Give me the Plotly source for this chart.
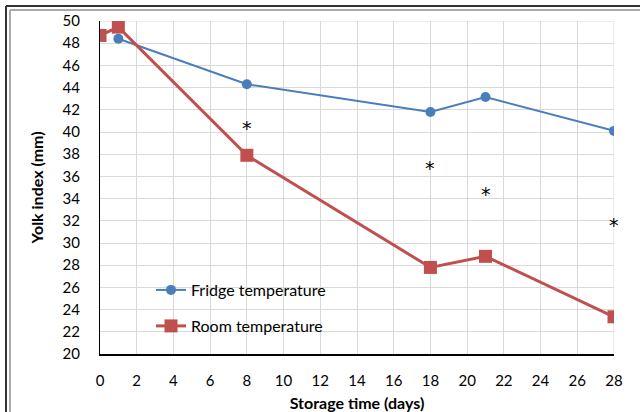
import plotly.graph_objects as go

fridge_days = [1, 8, 18, 21, 28]
fridge_yolk = [48.4, 44.3, 41.8, 43.15, 40.1]
room_days = [0, 1, 8, 18, 21, 28]
room_yolk = [48.7, 49.45, 37.9, 27.8, 28.8, 23.35]
star_days = [8, 18, 21, 28]
star_yolk = [40.6, 37.0, 34.65, 31.9]
x_ticks = list(range(0, 29, 2))
y_ticks = list(range(20, 51, 2))

FONT = "Lato"
BLUE = "#4A7EBB"
RED = "#C0504D"

fig = go.Figure()
fig.add_trace(go.Scatter(
    x=fridge_days, y=fridge_yolk, mode="lines+markers", name="Fridge temperature",
    line=dict(color=BLUE, width=2), marker=dict(symbol="circle", size=10, color=BLUE),
    legend="legend", showlegend=True))
fig.add_trace(go.Scatter(
    x=room_days, y=room_yolk, mode="lines+markers", name="Room temperature",
    line=dict(color=RED, width=3), marker=dict(symbol="square", size=13, color=RED),
    legend="legend2", showlegend=True))

for xd, yd in zip(star_days, star_yolk):
    fig.add_annotation(x=xd, y=yd, text="*", showarrow=False, yshift=-3,
                       font=dict(family="DejaVu Sans", size=19, color="black"))

W, H = 640, 412
L, R, T, B = 100, 26, 21, 58
pw, ph = W - L - R, H - T - B

def px(x):
    return (x - L) / pw

def py(y):
    return (H - B - y) / ph

shapes = [
    dict(type="line", xref="paper", yref="paper", x0=px(6), x1=px(641), y0=py(6), y1=py(6),
         line=dict(color="#333333", width=2)),
    dict(type="line", xref="paper", yref="paper", x0=px(10), x1=px(641), y0=py(10), y1=py(10),
         line=dict(color="#aaaaaa", width=2)),
    dict(type="line", xref="paper", yref="paper", x0=px(6), x1=px(6), y0=py(6), y1=py(413),
         line=dict(color="#333333", width=2)),
    dict(type="line", xref="paper", yref="paper", x0=px(10), x1=px(10), y0=py(10), y1=py(413),
         line=dict(color="#aaaaaa", width=2)),
    dict(type="line", xref="x", yref="paper", x0=28, x1=28, y0=0, y1=1,
         line=dict(color="#d9d9d9", width=1), layer="below"),
    dict(type="line", xref="paper", yref="y", x0=0, x1=1, y0=50, y1=50,
         line=dict(color="#d9d9d9", width=1), layer="below"),
]

fig.update_layout(
    width=W, height=H, margin=dict(l=L, r=R, t=T, b=B, autoexpand=False),
    paper_bgcolor="white", plot_bgcolor="white",
    font=dict(family=FONT, size=15, color="black"),
    shapes=shapes,
    showlegend=True,
    legend=dict(x=px(151), y=py(290), xanchor="left", yanchor="middle",
                bgcolor="rgba(0,0,0,0)", font=dict(family=FONT, size=16)),
    legend2=dict(x=px(151), y=py(326), xanchor="left", yanchor="middle",
                 bgcolor="rgba(0,0,0,0)", font=dict(family=FONT, size=16)),
    xaxis=dict(range=[0, 28], tickvals=x_ticks, showgrid=True, gridcolor="#d9d9d9", gridwidth=1,
               showline=True, linecolor="black", linewidth=1.5, zeroline=False,
               ticks="", ticklabelstandoff=12, automargin=False,
               tickfont=dict(family=FONT, size=15),
               title=dict(text="<b>Storage time (days)</b>", standoff=10,
                          font=dict(family=FONT, size=16))),
    yaxis=dict(range=[20, 50], tickvals=y_ticks, showgrid=True, gridcolor="#d9d9d9", gridwidth=1,
               showline=True, linecolor="black", linewidth=1, zeroline=False,
               ticks="", ticklabelstandoff=16, automargin=False,
               tickfont=dict(family=FONT, size=15),
               title=dict(text="<b>Yolk index (mm)</b>", standoff=14,
                          font=dict(family=FONT, size=16))),
)

fig.write_html("out.html")
